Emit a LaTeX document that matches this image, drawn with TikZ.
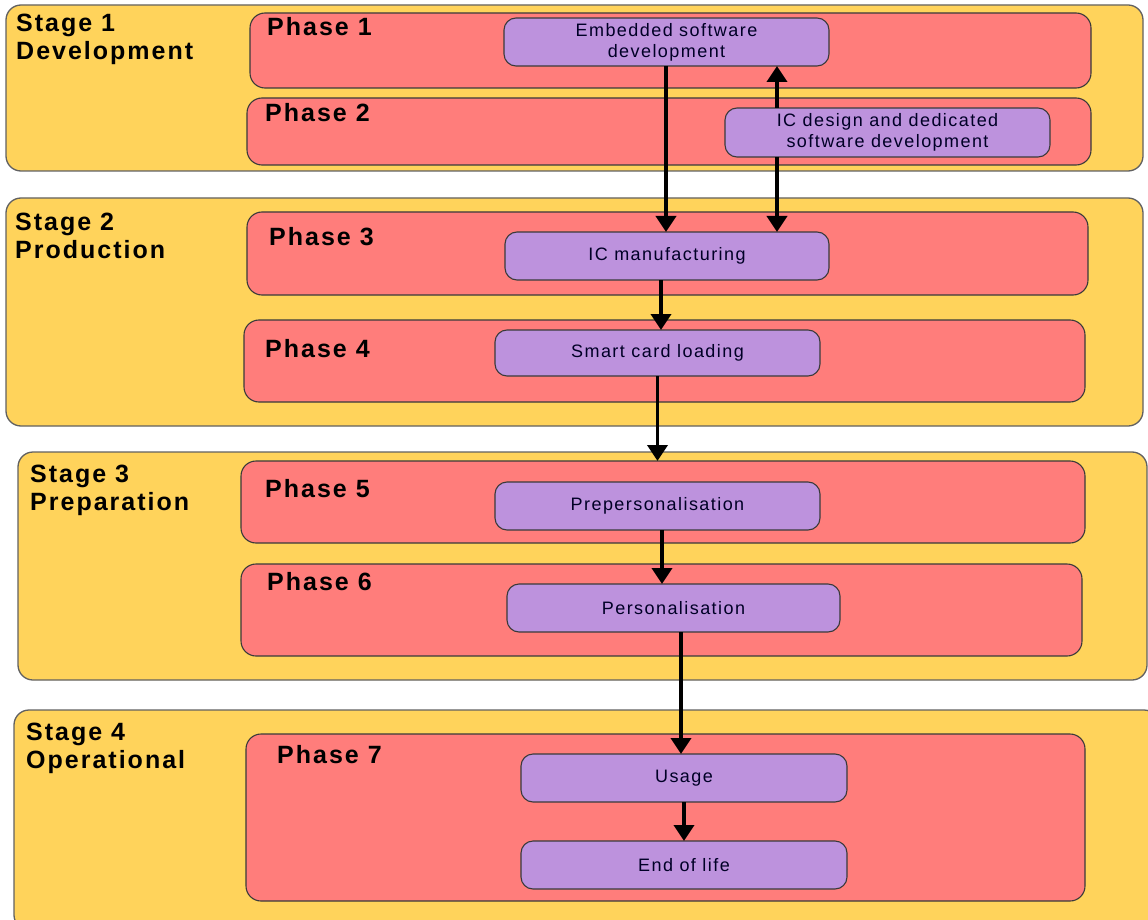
\documentclass[tikz,border=0pt]{standalone}
\usepackage{fontspec}
\setmainfont{Liberation Sans}
\newfontfamily\labfont[LetterSpace=8]{Liberation Sans}
\newfontfamily\boxfnt[LetterSpace=8]{Liberation Sans}
\usetikzlibrary{arrows.meta}
\definecolor{stagecol}{HTML}{FFD35B}
\definecolor{phasecol}{HTML}{FF7D7B}
\definecolor{boxcol}{HTML}{BD92DD}
\definecolor{edgecol}{HTML}{3A3A3A}
\begin{document}
\begin{tikzpicture}[x=1pt,y=-1pt,
  stagebox/.style={draw=edgecol!80, line width=1.3pt, fill=stagecol, rounded corners=15pt, inner sep=0pt, outer sep=0pt, anchor=north west},
  phasebox/.style={draw=edgecol, line width=1.1pt, fill=phasecol, rounded corners=15pt, inner sep=0pt, outer sep=0pt, anchor=north west},
  actbox/.style={draw=edgecol, line width=1.1pt, fill=boxcol, rounded corners=12pt, inner sep=0pt, outer sep=0pt, align=center, text=black!85!blue,
     font=\boxfnt\fontsize{18}{21}\selectfont},
  stagelab/.style={anchor=base west, inner sep=0pt, font=\labfont\bfseries\fontsize{25}{28}\selectfont},
  phaselab/.style={anchor=base west, inner sep=0pt, font=\labfont\bfseries\fontsize{25}{28}\selectfont},
  arr/.style={line width=3.8pt, -{Triangle[width=20pt,length=16pt]}}
]
\useasboundingbox (0,0) rectangle (1148,920);
\clip (0,0) rectangle (1148,920);
\fill[white] (0,0) rectangle (1148,920);

% stages
\node[stagebox, minimum width=1137pt, minimum height=166pt] (st1) at (6,5) {};
\node[stagebox, minimum width=1137pt, minimum height=228pt] (st2) at (6,198) {};
\node[stagebox, minimum width=1129pt, minimum height=228pt] (st3) at (18,452) {};
\node[stagebox, minimum width=1145pt, minimum height=220pt] (st4) at (14,710) {};

% phases
\node[phasebox, minimum width=841pt, minimum height=75pt] (ph1) at (250,13) {};
\node[phasebox, minimum width=844pt, minimum height=67pt] (ph2) at (247,98) {};
\node[phasebox, minimum width=841pt, minimum height=83pt] (ph3) at (247,212) {};
\node[phasebox, minimum width=841pt, minimum height=82pt] (ph4) at (244,320) {};
\node[phasebox, minimum width=844pt, minimum height=82pt] (ph5) at (241,461) {};
\node[phasebox, minimum width=841pt, minimum height=92pt] (ph6) at (241,564) {};
\node[phasebox, minimum width=839pt, minimum height=167pt] (ph7) at (246,734) {};

% stage labels
\node[stagelab] (l1) at (16,32) {\vtop{\baselineskip=28pt\hbox{Stage 1}\hbox{Development}}};
\node[stagelab] (l2) at (15,230) {\vtop{\baselineskip=28pt\hbox{Stage 2}\hbox{Production}}};
\node[stagelab] (l3) at (30,482) {\vtop{\baselineskip=28pt\hbox{Stage 3}\hbox{Preparation}}};
\node[stagelab] (l4) at (26,740) {\vtop{\baselineskip=28pt\hbox{Stage 4}\hbox{Operational}}};

% phase labels
\node[phaselab] (p1) at (267,36) {Phase 1};
\node[phaselab] (p2) at (265,122) {Phase 2};
\node[phaselab] (p3) at (269,245) {Phase 3};
\node[phaselab] (p4) at (265,357) {Phase 4};
\node[phaselab] (p5) at (265,497) {Phase 5};
\node[phaselab] (p6) at (267,590) {Phase 6};
\node[phaselab] (p7) at (277,763) {Phase 7};

% activity boxes
\node[actbox, minimum width=325pt, minimum height=48pt] (emb) at (666.5,42) {Embedded software\\development};
\node[actbox, minimum width=325pt, minimum height=49pt] (icd) at (887.5,132.5) {IC design and dedicated\\software development};
\node[actbox, minimum width=324pt, minimum height=48pt] (icm) at (667,256) {IC manufacturing};
\node[actbox, minimum width=325pt, minimum height=46pt] (scl) at (657.5,353) {Smart card loading};
\node[actbox, minimum width=325pt, minimum height=48pt] (pre) at (657.5,506) {Prepersonalisation};
\node[actbox, minimum width=333pt, minimum height=48pt] (per) at (673.5,608) {Personalisation};
\node[actbox, minimum width=326pt, minimum height=48pt] (usa) at (684,778) {Usage};
\node[actbox, minimum width=326pt, minimum height=48pt] (eol) at (684,865) {End of life};

% helper columns
\coordinate (c1) at (777,0);
\coordinate (c2) at (661,0);
\coordinate (c3) at (662,0);
\coordinate (c4) at (681,0);
\coordinate (c5) at (666,0);

% arrows
\draw[arr] (emb.south -| c5) -- (icm.north -| c5);
\draw[arr] (icd.north -| c1) -- (emb.south -| c1);
\draw[arr] (icd.south -| c1) -- (icm.north -| c1);
\draw[arr] (icm.south -| c2) -- (scl.north -| c2);
\draw[arr] (scl.south) -- (scl.south |- ph5.north);
\draw[arr] (pre.south -| c3) -- (per.north -| c3);
\draw[arr] (per.south -| c4) -- (usa.north -| c4);
\draw[arr] (usa.south) -- (eol.north);
\end{tikzpicture}
\end{document}
